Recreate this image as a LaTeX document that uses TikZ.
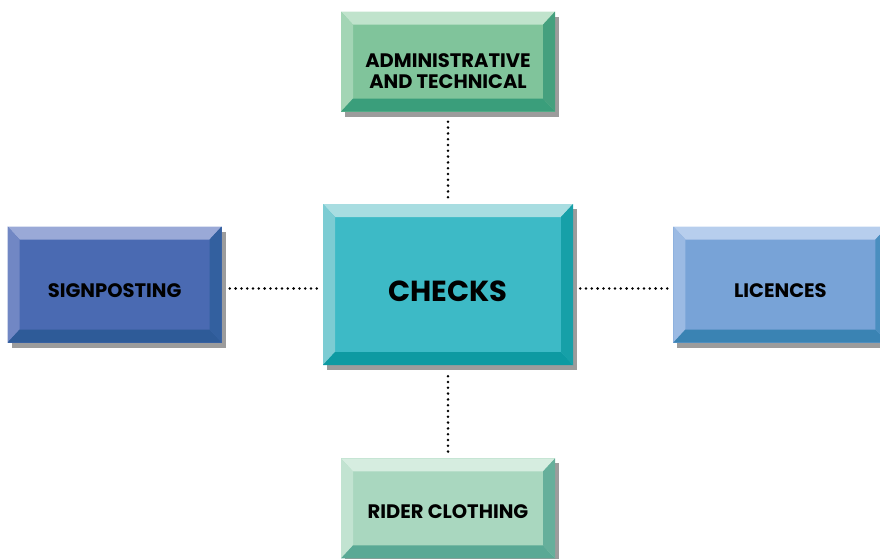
\documentclass[tikz,border=0pt]{standalone}
\usepackage{fontspec}
\setsansfont{Poppins}
\usepackage{tikz}
\usetikzlibrary{positioning, shadows}

\definecolor{shadowgray}{HTML}{9C9C9C}
% main, top, left, bottom, right faces
\definecolor{chkmain}{HTML}{3DBAC6}\definecolor{chktop}{HTML}{A8DDE1}\definecolor{chkleft}{HTML}{7CCCD3}\definecolor{chkbot}{HTML}{0D9AA2}\definecolor{chkright}{HTML}{16A0A8}
\definecolor{admmain}{HTML}{80C49B}\definecolor{admtop}{HTML}{C0E3CC}\definecolor{admleft}{HTML}{A3D5B5}\definecolor{admbot}{HTML}{3A9E7B}\definecolor{admright}{HTML}{45A07E}
\definecolor{ridmain}{HTML}{A9D7BF}\definecolor{ridtop}{HTML}{D6EDE0}\definecolor{ridleft}{HTML}{C2E3D1}\definecolor{ridbot}{HTML}{5AA995}\definecolor{ridright}{HTML}{66AF9B}
\definecolor{sgnmain}{HTML}{4A6AB2}\definecolor{sgntop}{HTML}{9AA9D7}\definecolor{sgnleft}{HTML}{7187C4}\definecolor{sgnbot}{HTML}{2E5B98}\definecolor{sgnright}{HTML}{33609F}
\definecolor{licmain}{HTML}{78A3D7}\definecolor{lictop}{HTML}{B7CEED}\definecolor{licleft}{HTML}{9BBAE3}\definecolor{licbot}{HTML}{3A83B3}\definecolor{licright}{HTML}{4A8EBF}

\def\boxlift{26pt}

\begin{document}
\begin{tikzpicture}[
    x=1pt, y=1pt,
    node distance=92pt and 100pt,
    lift/.store in=\boxlift,
    box/.style={rectangle, fill=#1main, inner sep=0pt, align=center,
        minimum width=214pt, minimum height=100pt, lift=26pt,
        execute at begin node={\rule{0pt}{\boxlift}},
        font=\sffamily\bfseries\fontsize{19.5}{21}\selectfont,
        drop shadow={shadow xshift=4pt, shadow yshift=-5pt, fill=shadowgray, opacity=1},
        path picture={
            \coordinate (nw) at (path picture bounding box.north west);
            \coordinate (ne) at (path picture bounding box.north east);
            \coordinate (se) at (path picture bounding box.south east);
            \coordinate (sw) at (path picture bounding box.south west);
            \fill[#1top] (nw) -- (ne) -- ([shift={(-12pt,-13pt)}]ne) -- ([shift={(12pt,-13pt)}]nw) -- cycle;
            \fill[#1left] (nw) -- ([shift={(12pt,-13pt)}]nw) -- ([shift={(12pt,13pt)}]sw) -- (sw) -- cycle;
            \fill[#1bot] (sw) -- (se) -- ([shift={(-12pt,13pt)}]se) -- ([shift={(12pt,13pt)}]sw) -- cycle;
            \fill[#1right] (ne) -- (se) -- ([shift={(-12pt,13pt)}]se) -- ([shift={(-12pt,-13pt)}]ne) -- cycle;
        }},
    link/.style={line width=2.8pt, line cap=round, dash pattern=on 0pt off 5.8pt}
]
\clip (0,0) rectangle (880,558);

% centre and the four satellites
\node (checks) [box=chk, minimum width=250pt, minimum height=161pt, lift=35pt,
    font=\sffamily\bfseries\fontsize{29}{32}\selectfont] at (448,273.5) {CHECKS};
\node (admin) [box=adm, above=of checks, lift=0pt] {\rule{0pt}{32pt}ADMINISTRATIVE\\AND TECHNICAL};
\node (rider) [box=rid, below=93pt of checks, lift=20pt] {RIDER CLOTHING};
\node (sign) [box=sgn, minimum height=116pt, left=101pt of checks] {SIGNPOSTING};
\node (lic) [box=lic, minimum height=116pt, right=of checks] {LICENCES};

\draw [link, shorten <=10pt, shorten >=2pt] (admin) -- (checks);
\draw [link, shorten <=11pt, shorten >=2pt] (checks) -- (rider);
\draw [link, shorten <=8pt, shorten >=3pt] ([yshift=-4pt]sign.east) -- ([yshift=-4pt]checks.west);
\draw [link, shorten <=7pt, shorten >=3pt] ([yshift=-4pt]checks.east) -- ([yshift=-4pt]lic.west);
\end{tikzpicture}
\end{document}
